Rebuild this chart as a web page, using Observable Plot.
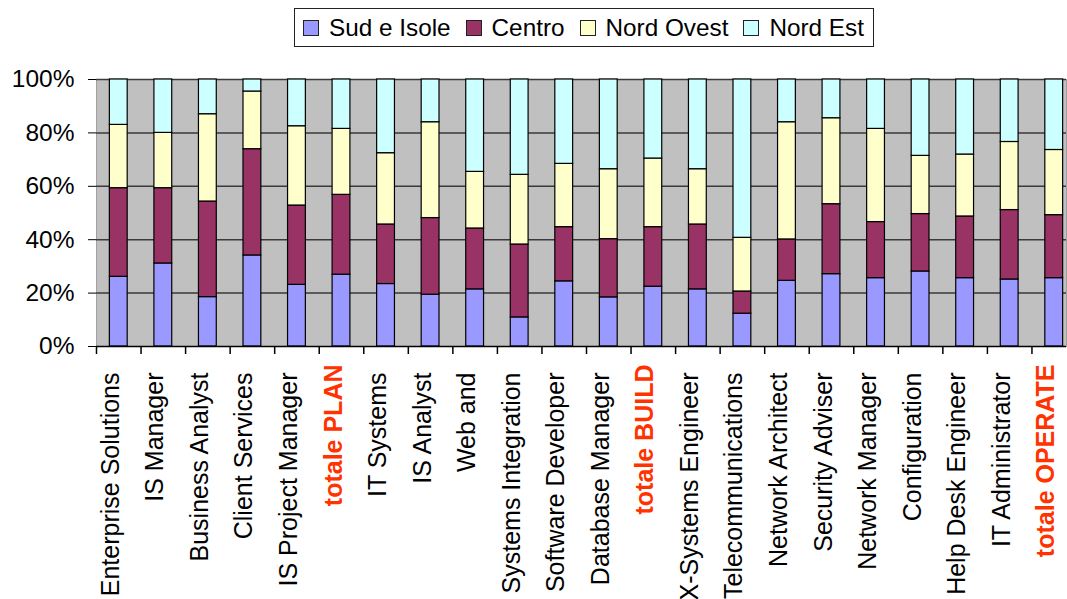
<!DOCTYPE html>
<html>
<head>
<meta charset="utf-8">
<script src="https://cdn.jsdelivr.net/npm/d3@7"></script>
<script src="https://cdn.jsdelivr.net/npm/@observablehq/plot@0.6"></script>
<style>
  html, body { margin: 0; padding: 0; background: #fff; }
  body { width: 1067px; height: 599px; overflow: hidden; font-family: "Liberation Sans", Arial, sans-serif; }
  #legendWrap { position: relative; width: 1067px; height: 62px; }
  #legend { position: absolute; left: 294px; top: 8px; height: 37px; border: 1px solid #222;
            display: flex; align-items: center; padding-left: 8px; padding-right: 9px; box-sizing: content-box; white-space: nowrap; }
  .item { display: flex; align-items: center; flex-shrink: 0; margin-right: 15px; font-size: 24.3px; color: #000; white-space: nowrap; }
  .item:last-child { margin-right: 0; }
  .sw { width: 14px; height: 14px; border: 1px solid #222; margin-right: 10px; flex-shrink: 0; }
  #chart svg { display: block; }
</style>
</head>
<body>
<div id="legendWrap"><div id="legend"></div></div>
<div id="chart"></div>
<script>
const categories = ["Enterprise Solutions", "IS Manager", "Business Analyst", "Client Services", "IS Project Manager", "totale PLAN",
  "IT Systems", "IS Analyst", "Web and", "Systems Integration", "Software Developer", "Database Manager", "totale BUILD",
  "X-Systems Engineer", "Telecommunications", "Network Architect", "Security Adviser", "Network Manager", "Configuration",
  "Help Desk Engineer", "IT Administrator", "totale OPERATE"];
const regions = ["Sud e Isole", "Centro", "Nord Ovest", "Nord Est"];
const regionColors = ["#9999ff", "#993366", "#ffffcc", "#ccffff"];
const sudIsole  = [26.1, 31.1, 18.5, 34.1, 23.1, 26.9, 23.4, 19.4, 21.4, 10.9, 24.4, 18.4, 22.4, 21.4, 12.3, 24.6, 27.1, 25.6, 28.1, 25.6, 25.1, 25.6];
const centro    = [33.2, 28.2, 35.8, 39.8, 29.7, 29.9, 22.3, 28.7, 22.8, 27.3, 20.3, 21.8, 22.3, 24.3, 8.3, 15.5, 26.2, 21.0, 21.5, 23.1, 26.0, 23.6];
const nordOvest = [23.7, 20.7, 32.7, 21.6, 29.7, 24.7, 26.7, 35.9, 21.2, 26.1, 23.7, 26.2, 25.7, 20.7, 20.1, 43.9, 32.2, 34.9, 21.8, 23.2, 25.5, 24.4];
const nordEst   = [17.0, 20.0, 13.0, 4.5, 17.5, 18.5, 27.6, 16.0, 34.6, 35.7, 31.6, 33.6, 29.6, 33.6, 59.3, 16.0, 14.5, 18.5, 28.6, 28.1, 23.4, 26.4];
const yTicks = [0, 0.2, 0.4, 0.6, 0.8, 1];

const series = [sudIsole, centro, nordOvest, nordEst];
const data = [];
categories.forEach((c, i) => regions.forEach((r, j) => data.push({cat: c, region: r, value: series[j][i]})));

// legend
const legend = document.getElementById("legend");
regions.forEach((r, j) => {
  const it = document.createElement("div");
  it.className = "item";
  const sw = document.createElement("div");
  sw.className = "sw";
  sw.style.background = regionColors[j];
  const tx = document.createElement("span");
  tx.textContent = r;
  it.appendChild(sw); it.appendChild(tx);
  legend.appendChild(it);
});

const isTotal = d => d.startsWith("totale");
const W = 1067, H = 537, mL = 96, mT = 17, mB = 253;
const xEnd = 1076;
const step = (xEnd - mL) / categories.length;

const chart = Plot.plot({
  width: W,
  height: H,
  marginLeft: mL,
  marginRight: 1,
  marginTop: mT,
  marginBottom: mB,
  style: {fontFamily: "'Liberation Sans', Arial, sans-serif", fontSize: "24.5px", color: "#000", background: "transparent", overflow: "visible"},
  x: {domain: categories, range: [mL, xEnd], paddingInner: 0.6, paddingOuter: 0.3, round: false, axis: null},
  y: {domain: [0, 1], ticks: yTicks, tickFormat: d => Math.round(d * 100) + "%", tickSize: 8, tickPadding: 14, label: null, line: true},
  color: {domain: regions, range: regionColors},
  marks: [
    Plot.frame({fill: "#c0c0c0", stroke: "#a0a0a0"}),
    Plot.ruleY(yTicks.slice(1), {stroke: "#3a3a3a", strokeWidth: 1.5}),
    Plot.barY(data, Plot.stackY({x: "cat", y: "value", fill: "region", order: null, offset: "normalize", stroke: "#000", strokeWidth: 1.2})),
    Plot.ruleY([0], {stroke: "#000", strokeWidth: 1.5}),
    Plot.ruleX(categories, {x: d => d, dx: -step / 2, insetTop: H - mT - mB, insetBottom: -8, stroke: "#000", strokeWidth: 1.5}),
    Plot.text(categories.filter(d => !isTotal(d)), {x: d => d, text: d => d, frameAnchor: "bottom", rotate: -90, textAnchor: "end", dy: 26, fontSize: 25, fill: "#000"}),
    Plot.text(categories.filter(isTotal), {x: d => d, text: d => d, frameAnchor: "bottom", rotate: -90, textAnchor: "end", dy: 18, fontSize: 25, fontWeight: "bold", fill: "#ff3300"})
  ]
});
document.getElementById("chart").appendChild(chart);
</script>
</body>
</html>
